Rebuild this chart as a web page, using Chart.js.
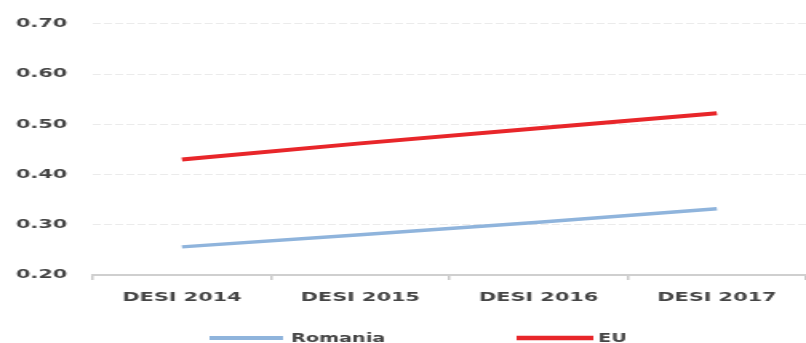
<!DOCTYPE html>
<html>
<head>
<meta charset="utf-8">
<script src="https://cdn.jsdelivr.net/npm/chart.js@4/dist/chart.umd.min.js"></script>
<style>
  html, body { margin: 0; padding: 0; background: #fff; }
</style>
</head>
<body>
<!-- the reference is stretched sideways, so the canvas is drawn narrow and widened by css -->
<canvas id="c" width="504" height="343" style="width:806px;height:343px;display:block"></canvas>
<script>
const categories = ['DESI 2014', 'DESI 2015', 'DESI 2016', 'DESI 2017'];
const romania = [0.256, 0.280, 0.305, 0.332];
const eu = [0.430, 0.462, 0.492, 0.522];
const yTicks = [0.20, 0.30, 0.40, 0.50, 0.60, 0.70];

const textColor = '#454545';
const font = {family: 'DejaVu Sans', size: 13, weight: 'bold'};

// legend drawn by hand so the wide gap between items matches
const bottomLegend = {
  id: 'bottomLegend',
  afterDraw(chart) {
    const ctx = chart.ctx;
    const spots = [{x0: 131, x1: 177, tx: 182}, {x0: 323, x1: 371, tx: 374}];
    const y = 338;
    ctx.save();
    chart.data.datasets.forEach((ds, i) => {
      const s = spots[i];
      ctx.strokeStyle = ds.borderColor;
      ctx.lineWidth = ds.borderWidth + 0.5;
      ctx.beginPath();
      ctx.moveTo(s.x0, y);
      ctx.lineTo(s.x1, y);
      ctx.stroke();
      ctx.fillStyle = textColor;
      ctx.font = 'bold 12px "DejaVu Sans"';
      ctx.textBaseline = 'middle';
      ctx.fillText(ds.label, s.tx, y + 1);
    });
    ctx.restore();
  }
};

new Chart(document.getElementById('c'), {
  type: 'line',
  data: {
    labels: categories,
    datasets: [
      {label: 'Romania', data: romania, borderColor: '#8fb4dc', borderWidth: 3.5,
       pointRadius: 0, tension: 0, borderCapStyle: 'butt'},
      {label: 'EU', data: eu, borderColor: '#e8262a', borderWidth: 4,
       pointRadius: 0, tension: 0, borderCapStyle: 'butt'}
    ]
  },
  options: {
    responsive: false,
    devicePixelRatio: 1,
    animation: false,
    layout: {padding: {top: 22, right: 0, bottom: 0, left: 0}},
    plugins: {legend: {display: false}, tooltip: {enabled: false}},
    scales: {
      x: {
        offset: true,
        grid: {drawOnChartArea: false, drawTicks: true, tickLength: 5, offset: true, color: '#c8c8c8', lineWidth: 1.5},
        border: {display: true, color: '#cfcfcf', width: 2},
        ticks: {color: textColor, font: font, padding: 10, maxRotation: 0},
        afterFit: s => { s.height = 68; }
      },
      y: {
        min: 0.2,
        max: 0.7,
        afterBuildTicks: s => { s.ticks = yTicks.map(v => ({value: v})); },
        grid: {drawTicks: false, color: '#ebebeb', lineWidth: 1},
        border: {display: false, dash: [5, 2]},
        ticks: {color: textColor, font: font, padding: 16, callback: v => v.toFixed(2)},
        afterFit: s => { s.width = 58; }
      }
    }
  },
  plugins: [bottomLegend]
});
</script>
</body>
</html>
